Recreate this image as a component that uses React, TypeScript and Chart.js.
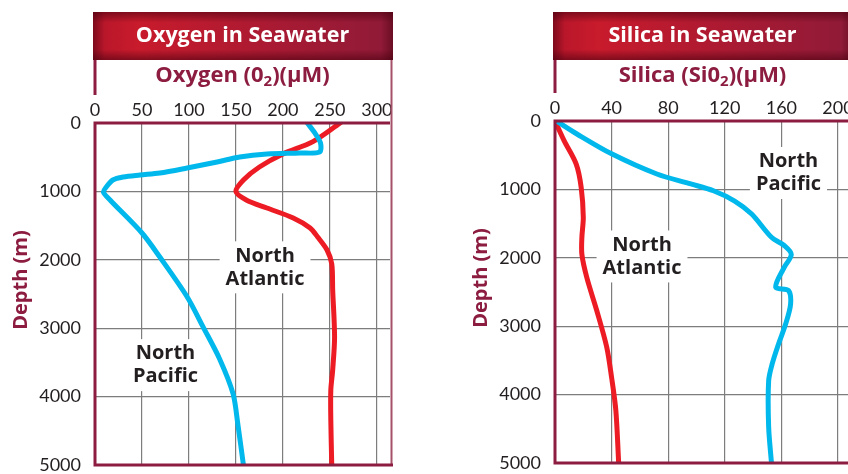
import React, { useEffect, useRef } from 'react';
import { Chart, registerables } from 'chart.js';

Chart.register(...registerables);

const depthTicks = [0, 1000, 2000, 3000, 4000, 5000];
const oxygenTicks = [0, 50, 100, 150, 200, 250, 300];
const silicaTicks = [0, 40, 80, 120, 160, 200];

const oxygenPacificDepth = [0, 146, 292, 424, 438, 453, 497, 570, 658, 731, 760, 789, 833, 936, 1010, 1125, 1608, 1960, 2540, 2980, 3460, 3960, 4400, 5000];
const oxygenPacificValue = [226, 234, 240, 239, 218, 183, 154, 130, 98, 69, 48, 30, 19, 12, 9, 16, 50, 69, 98, 115, 133, 147, 152, 158];

const oxygenAtlanticDepth = [0, 272, 453, 643, 833, 1000, 1125, 1243, 1389, 1535, 1667, 1857, 2061, 2442, 3129, 3611, 3903, 4342, 5000];
const oxygenAtlanticValue = [261, 232, 200, 175, 158, 150, 161, 183, 211, 229, 237, 247, 252, 253, 255, 253, 251, 251, 252];

const silicaPacificDepth = [0, 190, 480, 775, 920, 1020, 1170, 1360, 1700, 1820, 1950, 2140, 2430, 2478, 2678, 2969, 3260, 3552, 3800, 4470, 5000];
const silicaPacificValue = [1, 15.5, 40, 72, 96, 112, 127, 139, 153, 162, 167, 162, 156, 165, 166.5, 163, 158, 153.5, 151, 151, 153];

const silicaAtlanticDepth = [0, 290, 630, 970, 1410, 1700, 1950, 2290, 2770, 3300, 3750, 4230, 5000];
const silicaAtlanticValue = [0, 6.5, 15, 18.5, 20, 19, 19, 22.5, 29.5, 36.5, 40, 43, 45];

const oxygenLabelLines = [['North', 'Atlantic'], ['North', 'Pacific']];
const oxygenLabelValue = [181, 75];
const oxygenLabelDepth = [2110, 3540];

const silicaLabelLines = [['North', 'Pacific'], ['North', 'Atlantic']];
const silicaLabelValue = [165, 61.5];
const silicaLabelDepth = [760, 1980];

const PACIFIC = '#00b8ec';
const ATLANTIC = '#ed1c24';
const MAROON = '#8c1d40';
const TEXT = '#231f20';
const FONT = 'Lato, "Open Sans", sans-serif';
const BOLD = '"Open Sans", Lato, sans-serif';
const H = 474;

type Series = { depth: number[]; value: number[]; color: string };
type Panel = {
  title: string;
  axisMain: string;
  axisSub: string;
  axisTail: string;
  ticks: number[];
  xMax: number;
  series: Series[];
  labelLines: string[][];
  labelValue: number[];
  labelDepth: number[];
  left: number;
  width: number;
  plotLeft: number;
  plotRight: number;
  plotTop: number;
  plotBottom: number;
};

const panels: Panel[] = [
  {
    title: 'Oxygen in Seawater',
    axisMain: 'Oxygen (0',
    axisSub: '2',
    axisTail: ')(\u03bcM)',
    ticks: oxygenTicks,
    xMax: 314,
    series: [
      { depth: oxygenPacificDepth, value: oxygenPacificValue, color: PACIFIC },
      { depth: oxygenAtlanticDepth, value: oxygenAtlanticValue, color: ATLANTIC },
    ],
    labelLines: oxygenLabelLines,
    labelValue: oxygenLabelValue,
    labelDepth: oxygenLabelDepth,
    left: 0,
    width: 424,
    plotLeft: 95,
    plotRight: 390,
    plotTop: 123,
    plotBottom: 465,
  },
  {
    title: 'Silica in Seawater',
    axisMain: 'Silica (Si0',
    axisSub: '2',
    axisTail: ')(\u03bcM)',
    ticks: silicaTicks,
    xMax: 208.5,
    series: [
      { depth: silicaPacificDepth, value: silicaPacificValue, color: PACIFIC },
      { depth: silicaAtlanticDepth, value: silicaAtlanticValue, color: ATLANTIC },
    ],
    labelLines: silicaLabelLines,
    labelValue: silicaLabelValue,
    labelDepth: silicaLabelDepth,
    left: 424,
    width: 460,
    plotLeft: 131,
    plotRight: 426,
    plotTop: 121,
    plotBottom: 463,
  },
];

function makePlugin(p: Panel) {
  return {
    id: 'frame' + p.left,
    beforeDatasetsDraw(chart: any) {
      const ctx = chart.ctx;
      const xs = chart.scales.x;
      const ys = chart.scales.y;
      ctx.save();
      ctx.font = `bold 20px ${BOLD}`;
      ctx.textAlign = 'center';
      ctx.textBaseline = 'middle';
      const lh = 23;
      p.labelLines.forEach((lines, i) => {
        const cx = xs.getPixelForValue(p.labelValue[i]);
        const cy = ys.getPixelForValue(p.labelDepth[i]);
        const w = Math.max(...lines.map((l) => ctx.measureText(l).width)) + 12;
        const h = lines.length * lh + 6;
        ctx.fillStyle = '#ffffff';
        ctx.fillRect(cx - w / 2, cy - h / 2, w, h);
        ctx.fillStyle = TEXT;
        lines.forEach((l, j) => {
          ctx.fillText(l, cx, cy + (j - (lines.length - 1) / 2) * lh);
        });
      });
      ctx.restore();
    },
    afterDraw(chart: any) {
      const ctx = chart.ctx;
      const a = chart.chartArea;
      const bl = a.left - 2;
      const br = a.right + 3;
      const bt = 12;
      const bb = 60;
      ctx.save();
      // banner
      const g = ctx.createLinearGradient(bl, 0, br, 0);
      g.addColorStop(0, '#b5152a');
      g.addColorStop(0.15, '#c81b2c');
      g.addColorStop(0.5, '#b01a31');
      g.addColorStop(1, '#8e1a38');
      ctx.fillStyle = g;
      ctx.fillRect(bl, bt, br - bl, bb - bt);
      const v = ctx.createLinearGradient(0, bt, 0, bb);
      v.addColorStop(0, 'rgba(70,0,15,0.55)');
      v.addColorStop(0.22, 'rgba(70,0,15,0)');
      v.addColorStop(0.78, 'rgba(70,0,15,0)');
      v.addColorStop(1, 'rgba(70,0,15,0.55)');
      ctx.fillStyle = v;
      ctx.fillRect(bl, bt, br - bl, bb - bt);
      const hz = ctx.createLinearGradient(bl, 0, br, 0);
      hz.addColorStop(0, 'rgba(70,0,15,0.5)');
      hz.addColorStop(0.04, 'rgba(70,0,15,0)');
      hz.addColorStop(0.96, 'rgba(70,0,15,0)');
      hz.addColorStop(1, 'rgba(70,0,15,0.5)');
      ctx.fillStyle = hz;
      ctx.fillRect(bl, bt, br - bl, bb - bt);
      ctx.fillStyle = '#ffffff';
      ctx.font = `bold 21.5px ${BOLD}`;
      ctx.textAlign = 'center';
      ctx.textBaseline = 'middle';
      const cx = (a.left + a.right) / 2;
      ctx.fillText(p.title, cx, 36);

      // axis title with subscript
      const mainFont = `bold 22px ${BOLD}`;
      const subFont = `bold 15px ${BOLD}`;
      ctx.font = mainFont;
      const w1 = ctx.measureText(p.axisMain).width;
      const w3 = ctx.measureText(p.axisTail).width;
      ctx.font = subFont;
      const w2 = ctx.measureText(p.axisSub).width;
      let x = cx - (w1 + w2 + w3) / 2;
      const ty = 76;
      ctx.fillStyle = MAROON;
      ctx.textAlign = 'left';
      ctx.textBaseline = 'middle';
      ctx.font = mainFont;
      ctx.fillText(p.axisMain, x, ty);
      x += w1;
      ctx.font = subFont;
      ctx.fillText(p.axisSub, x, ty + 6);
      x += w2;
      ctx.font = mainFont;
      ctx.fillText(p.axisTail, x, ty);

      // depth title
      ctx.save();
      ctx.translate(a.left - 74, a.top + 157);
      ctx.rotate(-Math.PI / 2);
      ctx.textAlign = 'center';
      ctx.textBaseline = 'middle';
      ctx.font = `bold 20px ${BOLD}`;
      ctx.fillStyle = MAROON;
      ctx.fillText('Depth (m)', 0, 0);
      ctx.restore();

      // frame
      ctx.lineCap = 'butt';
      ctx.strokeStyle = '#a5516a';
      ctx.lineWidth = 2;
      ctx.beginPath();
      ctx.moveTo(br - 1.5, bb);
      ctx.lineTo(br - 1.5, a.bottom);
      ctx.stroke();
      ctx.strokeStyle = MAROON;
      ctx.lineWidth = 3;
      ctx.beginPath();
      ctx.moveTo(a.left, bb);
      ctx.lineTo(a.left, a.top - 28);
      ctx.moveTo(a.left, a.top);
      ctx.lineTo(a.left, a.bottom);
      ctx.moveTo(a.left - 1.5, a.top);
      ctx.lineTo(a.right, a.top);
      ctx.moveTo(a.left - 1.5, a.bottom);
      ctx.lineTo(br, a.bottom);
      ctx.stroke();
      ctx.restore();
    },
  };
}

function ChartPanel({ p }: { p: Panel }) {
  const ref = useRef<HTMLCanvasElement | null>(null);
  useEffect(() => {
    const canvas = ref.current;
    if (!canvas) return;
    const chart = new Chart(canvas, {
      type: 'scatter',
      data: {
        datasets: p.series.map((s) => ({
          data: s.depth.map((d, i) => ({ x: s.value[i], y: d })),
          showLine: true,
          borderColor: s.color,
          backgroundColor: s.color,
          borderWidth: 5,
          pointRadius: 0,
          tension: 0.3,
          borderCapStyle: 'round',
          borderJoinStyle: 'round',
          fill: false,
        })),
      },
      options: {
        responsive: false,
        animation: false,
        events: [],
        layout: {
          padding: { left: 0, top: 0, right: p.width - p.plotRight, bottom: H - p.plotBottom },
        },
        plugins: { legend: { display: false }, tooltip: { enabled: false } },
        scales: {
          x: {
            type: 'linear',
            position: 'top',
            min: 0,
            max: p.xMax,
            afterBuildTicks: (s: any) => {
              s.ticks = p.ticks.map((v) => ({ value: v }));
            },
            afterFit: (s: any) => {
              s.height = p.plotTop;
              s.paddingLeft = 0;
              s.paddingRight = 0;
            },
            ticks: {
              color: TEXT,
              font: { family: FONT, size: 18 },
              padding: 2,
              maxRotation: 0,
              autoSkip: false,
              callback: (v: any) => String(v),
            },
            grid: { color: '#7d7d7d', lineWidth: 1.2, drawTicks: false },
            border: { display: false },
          },
          y: {
            type: 'linear',
            reverse: true,
            min: 0,
            max: 5000,
            afterBuildTicks: (s: any) => {
              s.ticks = depthTicks.map((v) => ({ value: v }));
            },
            afterFit: (s: any) => {
              s.width = p.plotLeft;
              s.paddingTop = 0;
              s.paddingBottom = 0;
            },
            ticks: {
              color: TEXT,
              font: { family: FONT, size: 18 },
              padding: 14,
              autoSkip: false,
              callback: (v: any) => String(v),
            },
            grid: { color: '#7d7d7d', lineWidth: 1.2, drawTicks: false },
            border: { display: false },
          },
        },
      } as any,
      plugins: [makePlugin(p)],
    });
    return () => chart.destroy();
  }, [p]);
  return (
    <canvas
      ref={ref}
      width={p.width}
      height={H}
      style={{ position: 'absolute', left: p.left, top: 0, width: p.width, height: H }}
    />
  );
}

export default function App() {
  return (
    <div
      style={{
        position: 'fixed',
        left: 0,
        top: 0,
        width: 848,
        height: H,
        overflow: 'hidden',
        background: '#ffffff',
      }}
    >
      {panels.map((p) => (
        <ChartPanel key={p.left} p={p} />
      ))}
    </div>
  );
}
